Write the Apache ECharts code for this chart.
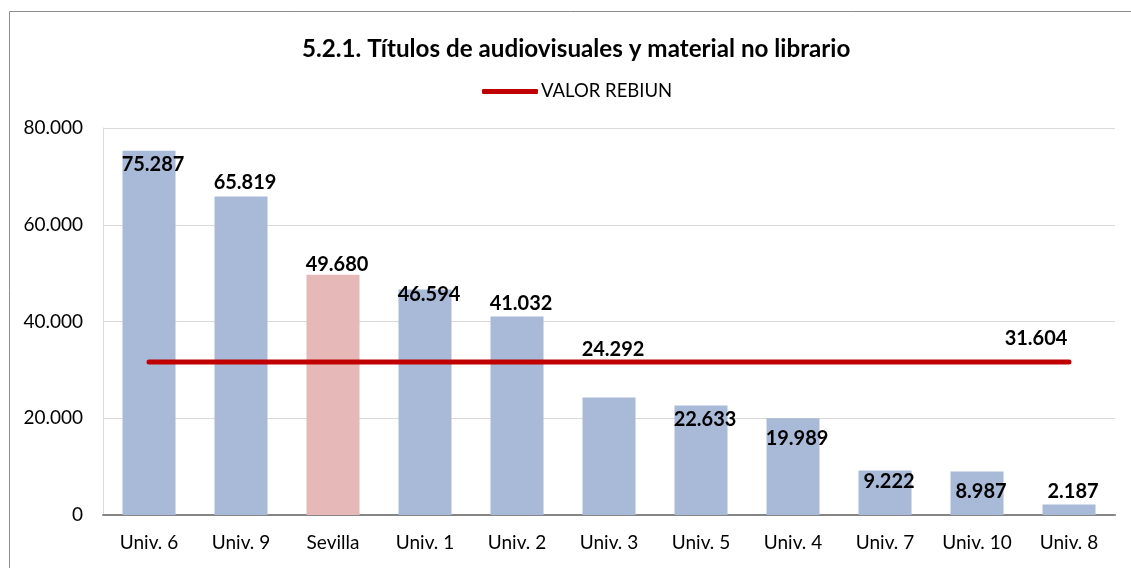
<!DOCTYPE html>
<html>
<head>
<meta charset="utf-8">
<script src="https://cdn.jsdelivr.net/npm/echarts@6/dist/echarts.min.js"></script>
<style>html,body{margin:0;padding:0;background:#fff}#c{width:1131px;height:568px}</style>
</head>
<body>
<div id="c"></div>
<script>
// ---- data ----
const categories = ['Univ. 6','Univ. 9','Sevilla','Univ. 1','Univ. 2','Univ. 3','Univ. 5','Univ. 4','Univ. 7','Univ. 10','Univ. 8'];
const titulos = [75287, 65819, 49680, 46594, 41032, 24292, 22633, 19989, 9222, 8987, 2187];
const valorRebiun = 31604;
const yTicks = [0, 20000, 40000, 60000, 80000];
const highlight = 'Sevilla';

// ---- styles ----
const FONT = 'Lato, "Liberation Sans", sans-serif';
const labelDy = [24, -4, 0, 15, -3, -38, 24, 30, 21, 30, -3];
const fmt = v => String(v).replace(/\B(?=(\d{3})+(?!\d))/g, '.');

const chart = echarts.init(document.getElementById('c'));
chart.setOption({
  animation: false,
  textStyle: { fontFamily: FONT },
  graphic: [{
    type: 'rect', shape: { x: 9.5, y: 11.5, width: 1140, height: 600 },
    style: { fill: 'none', stroke: '#8c8c8c', lineWidth: 1 }, silent: true, z: -1
  }],
  title: {
    text: '5.2.1. Títulos de audiovisuales y material no librario',
    left: 297, top: 32,
    textStyle: { fontFamily: FONT, fontWeight: 'bold', fontSize: 24.2, color: '#000' }
  },
  legend: {
    data: ['VALOR REBIUN'], left: 482, top: 82, padding: 0,
    itemWidth: 56, itemHeight: 5, itemGap: 10,
    icon: 'roundRect',
    textStyle: { fontFamily: FONT, fontSize: 18.5, color: '#000', padding: [0, 0, 0, -2] }
  },
  grid: { left: 103, right: 16, top: 128, bottom: 53 },
  xAxis: {
    type: 'category', data: categories,
    axisLine: { lineStyle: { color: '#868686', width: 2 } },
    axisTick: { show: false },
    axisLabel: { color: '#000', fontSize: 19, margin: 18, fontFamily: FONT }
  },
  yAxis: {
    type: 'value', min: yTicks[0], max: yTicks[yTicks.length - 1], interval: yTicks[1] - yTicks[0],
    axisLine: { show: true, lineStyle: { color: '#d9d9d9' } },
    axisTick: { show: false },
    splitLine: { lineStyle: { color: '#d9d9d9' } },
    axisLabel: { color: '#000', fontSize: 19, margin: 20, fontFamily: FONT, formatter: v => fmt(v) }
  },
  series: [
    {
      name: 'Títulos', type: 'bar', barWidth: 53,
      data: titulos.map((v, i) => ({
        value: v,
        itemStyle: { color: categories[i] === highlight ? '#e6b9b8' : '#a9b9d8' },
        label: { offset: [4, labelDy[i]] }
      })),
      label: {
        show: true, position: 'top', distance: 0,
        fontFamily: FONT, fontWeight: 'bold', fontSize: 20, color: '#000',
        formatter: p => fmt(p.value)
      },
      z: 2
    },
    {
      name: 'VALOR REBIUN', type: 'line',
      data: categories.map((c, i) => i === categories.length - 1
        ? { value: valorRebiun, label: { show: true } }
        : valorRebiun),
      symbol: 'circle', symbolSize: 0, showSymbol: true,
      lineStyle: { color: '#c00000', width: 5, cap: 'round' },
      itemStyle: { color: '#c00000' },
      label: {
        show: false, position: 'top', offset: [-33, -9],
        fontFamily: FONT, fontWeight: 'bold', fontSize: 20, color: '#000',
        formatter: p => fmt(p.value)
      },
      z: 3
    }
  ]
});
</script>
</body>
</html>
